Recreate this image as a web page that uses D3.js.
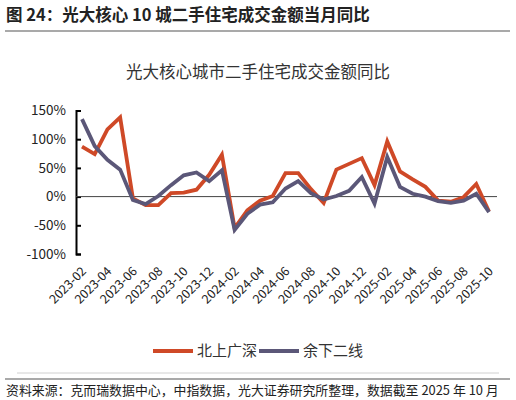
<!DOCTYPE html>
<html>
<head>
<meta charset="utf-8">
<script src="https://cdn.jsdelivr.net/npm/d3@7"></script>
<style>
    body { margin: 0; background: #fff; }
    svg text { font-family: "Noto Sans CJK SC", "Noto Sans", sans-serif; }
</style>
</head>
<body>
<svg id="chart" width="516" height="400"></svg>
<script>
    // months on the category axis
    const months = [
        "2023-02", "2023-03", "2023-04", "2023-05", "2023-06", "2023-07", "2023-08", "2023-09",
        "2023-10", "2023-11", "2023-12", "2024-01", "2024-02", "2024-03", "2024-04", "2024-05",
        "2024-06", "2024-07", "2024-08", "2024-09", "2024-10", "2024-11", "2024-12", "2025-01",
        "2025-02", "2025-03", "2025-04", "2025-05", "2025-06", "2025-07", "2025-08", "2025-09",
        "2025-10"
    ];
    // 北上广深, yoy %
    const tier1 = [87, 74, 117, 138, -3, -15, -15, 6, 7, 12, 38, 73, -55, -24, -7, 1,
                   41, 41, 13, -11, 47, 57, 67, 20, 96, 44, 30, 17, -7, -9, -1, 22, -26];
    // 余下二线, yoy %
    const tier2 = [135, 88, 64, 47, -6, -13, 1, 20, 37, 42, 27, 46, -58, -30, -14, -10,
                   14, 27, 6, -5, 1, 10, 34, -12, 69, 17, 5, 0, -8, -11, -7, 5, -27];
    const yTicks = [-100, -50, 0, 50, 100, 150];
    const seriesNames = ["北上广深", "余下二线"];
    const colors = ["#cf4927", "#5b5778"];

    const svg = d3.select("#chart");

    // header
    svg.append("text")
        .attr("x", 6).attr("y", 21)
        .attr("font-size", 16.5).attr("font-weight", "bold").attr("fill", "#222")
        .text("图 24：光大核心 10 城二手住宅成交金额当月同比");
    svg.append("line")
        .attr("x1", 5).attr("x2", 510).attr("y1", 31).attr("y2", 31)
        .attr("stroke", "#555").attr("stroke-width", 1.2);

    svg.append("text")
        .attr("x", 258).attr("y", 78)
        .attr("text-anchor", "middle")
        .attr("font-size", 16.5).attr("fill", "#333")
        .text("光大核心城市二手住宅成交金额同比");

    const x = d3.scalePoint().domain(months).range([82, 489]);
    const y = d3.scaleLinear().domain([-100, 150]).range([254, 110.5]);

    // y axis, ticks pointing inward
    const yAxis = svg.append("g")
        .attr("transform", "translate(76,0)")
        .call(d3.axisRight(y).tickValues(yTicks).tickSize(5).tickFormat(""));
    yAxis.select(".domain").attr("stroke", "#000").attr("stroke-width", 2);
    yAxis.selectAll(".tick line").attr("stroke", "#000").attr("stroke-width", 2);

    svg.append("g").selectAll("text")
        .data(yTicks)
        .enter().append("text")
        .attr("x", 66)
        .attr("y", d => y(d))
        .attr("dy", "0.35em")
        .attr("text-anchor", "end")
        .attr("font-size", 13.5).attr("fill", "#222")
        .text(d => d + "%");

    // zero line
    svg.append("line")
        .attr("x1", 76).attr("x2", 497)
        .attr("y1", y(0)).attr("y2", y(0))
        .attr("stroke", "#444").attr("stroke-width", 1);

    // x labels every second month
    svg.append("g").selectAll("text")
        .data(months.filter((m, i) => i % 2 === 0))
        .enter().append("text")
        .attr("transform", d => "translate(" + (x(d) + 5) + ",272) rotate(-45)")
        .attr("text-anchor", "end")
        .attr("font-size", 12.5).attr("fill", "#222")
        .text(d => d);

    const line = d3.line()
        .x((d, i) => x(months[i]))
        .y(d => y(d));

    [tier1, tier2].forEach((data, k) => {
        svg.append("path")
            .datum(data)
            .attr("fill", "none")
            .attr("stroke", colors[k])
            .attr("stroke-width", 3.8)
            .attr("stroke-linejoin", "miter")
            .attr("d", line);
    });

    // legend
    const legendX = [153, 259];
    seriesNames.forEach((name, k) => {
        svg.append("line")
            .attr("x1", legendX[k]).attr("x2", legendX[k] + 40)
            .attr("y1", 351).attr("y2", 351)
            .attr("stroke", colors[k]).attr("stroke-width", 4);
        svg.append("text")
            .attr("x", legendX[k] + 44).attr("y", 351)
            .attr("dy", "0.36em")
            .attr("font-size", 15).attr("fill", "#333")
            .text(name);
    });

    // footer
    svg.append("line")
        .attr("x1", 17).attr("x2", 499).attr("y1", 373).attr("y2", 373)
        .attr("stroke", "#d0d0d0").attr("stroke-width", 1);
    svg.append("line")
        .attr("x1", 5).attr("x2", 510).attr("y1", 379).attr("y2", 379)
        .attr("stroke", "#555").attr("stroke-width", 1.2);
    svg.append("text")
        .attr("x", 6).attr("y", 395)
        .attr("font-size", 12.9).attr("fill", "#222")
        .text("资料来源：克而瑞数据中心，中指数据，光大证券研究所整理，数据截至 2025 年 10 月");
</script>
</body>
</html>
